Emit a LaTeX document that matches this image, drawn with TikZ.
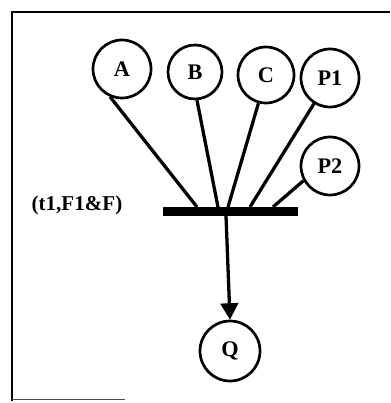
\documentclass[tikz,border=0pt]{standalone}
\usepackage{fontspec}
\setmainfont{Liberation Serif}
\usetikzlibrary{arrows.meta}
\begin{document}
\begin{tikzpicture}[x=0.03cm,y=-0.03cm,
    misto/.style={circle,draw,line width=2.3pt,minimum size=1.74cm,inner sep=0pt,font=\fontsize{19}{22}\selectfont\bfseries},
    prechod/.style={rectangle,fill=black,minimum width=4.05cm,minimum height=0.27cm,inner sep=0pt},
    hrana/.style={line width=2.8pt},
    popis/.style={font=\fontsize{18}{21}\selectfont\bfseries}]
    \useasboundingbox (0,0) rectangle (390,403);
    \draw[line width=2.4pt] (12,401) -- (12,12) -- (390,12);
    \draw[line width=0.8pt,black!70] (12,399) -- (125,399);

    \node[misto] (a) at (122,69) {A};
    \node[misto,minimum size=1.62cm] (b) at (195,72) {B};
    \node[misto,minimum size=1.68cm] (c) at (266,75) {C};
    \node[misto] (p1) at (330,78) {P1};
    \node[misto] (p2) at (330,166) {P2};
    \node[misto,minimum size=1.8cm] (q) at (230,351) {Q};

    \node[prechod] (t1) at (230.5,211.5) {};
    \node[popis] (tf) at (77,205) {(t1,F1\&F)};

    \coordinate (ta) at (197,207);
    \coordinate (tb) at (218,207);
    \coordinate (tc) at (228,207);
    \coordinate (tp1) at (250,207);
    \coordinate (tp2) at (273,207);
    \coordinate (tq) at (226,216);

    \draw[hrana] (a.247) -- (ta);
    \draw[hrana] (b.274) -- (tb);
    \draw[hrana] (c.255) -- (tc);
    \draw[hrana] (p1.238) -- (tp1);
    \draw[hrana] (p2.209) -- (tp2);

    \draw[hrana,-{Triangle[length=14pt,width=15pt]}] (tq) -- (q.north);
\end{tikzpicture}
\end{document}
